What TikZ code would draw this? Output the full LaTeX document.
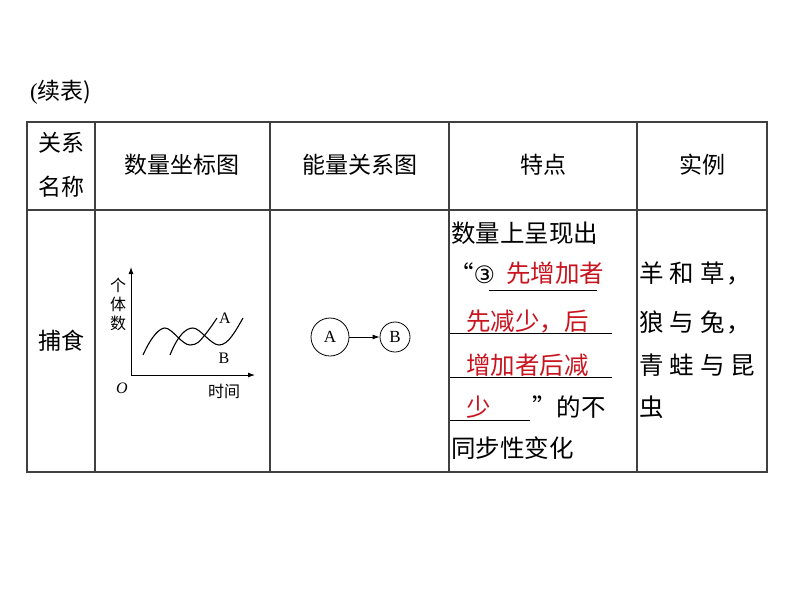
\documentclass[tikz,border=0pt]{standalone}
\usepackage{fontspec}
\setmainfont{Liberation Serif}
\newfontfamily\cjk{Noto Sans CJK SC}
\newfontfamily\djvfont{DejaVu Sans}
\usetikzlibrary{arrows.meta}
\definecolor{ansred}{RGB}{200,20,30}
\tikzset{
  txt/.style={font=\cjk\fontsize{24.5}{28}\selectfont, inner sep=0pt, anchor=west},
  ctxt/.style={font=\cjk\fontsize{23}{27}\selectfont, inner sep=0pt},
  red/.style={text=ansred},
  grid/.style={line width=1.2pt, draw=black!75},
  small/.style={font=\cjk\fontsize{16}{18}\selectfont, inner sep=0pt},
  circ/.style={circle, draw, line width=0.8pt, font=\fontsize{17}{19}\selectfont, inner sep=0pt},
  uline/.style={line width=0.8pt}
}
\begin{document}
\begin{tikzpicture}[x=1pt,y=-1pt]
\useasboundingbox (0,0) rectangle (794,603);
% table
\draw[grid] (27,122) rectangle (767,472);
\draw[grid] (27,210) -- (767,210);
\foreach \x in {95,270,449,637} \draw[grid] (\x,122) -- (\x,472);
\node[font=\fontsize{23}{27}\selectfont, inner sep=0pt, anchor=west] (xb) at (30,92) {(\cjk 续表)};
% header
\node[ctxt] (h1a) at (61,143) {关系};
\node[ctxt] (h1b) at (61,187) {名称};
\node[ctxt] (h2) at (182,165) {数量坐标图};
\node[ctxt] (h3) at (360,165) {能量关系图};
\node[ctxt] (h4) at (543,165) {特点};
\node[ctxt] (h5) at (702,165) {实例};
% row
\node[ctxt] (r1) at (61,341) {捕食};
% graph
\coordinate (o) at (131,375);
\coordinate (yt) at (131,267);
\coordinate (xr) at (255,375);
\draw[line width=0.9pt,-{Latex[length=7pt,width=5pt]}] (o) -- (yt);
\draw[line width=0.9pt,-{Latex[length=7pt,width=5pt]}] (o) -- (xr);
\node[small] (g1) at (118,285) {个};
\node[small] (g2) at (118,304) {体};
\node[small] (g3) at (118,323) {数};
\node[font=\itshape\fontsize{16}{18}\selectfont, inner sep=0pt] (oo) at (122,388) {O};
\node[small] (tm) at (224,391) {时间};
\draw[line width=1.1pt] (143,355) .. controls (152,335) and (160,328) .. (165,328)
  .. controls (172,328) and (182,345) .. (190,345) .. controls (197,345) and (200,341) .. (204,336)
  .. controls (209,330) and (213,324) .. (217,318);
\draw[line width=1.1pt] (170,355) .. controls (178,335) and (186,328) .. (193,328)
  .. controls (200,328) and (211,345) .. (219,345) .. controls (228,345) and (235,332) .. (243,318);
\node[font=\fontsize{16}{18}\selectfont, inner sep=0pt] (la) at (225,318) {A};
\node[font=\fontsize{16}{18}\selectfont, inner sep=0pt] (lb) at (224,358) {B};
% energy
\node[circ, minimum size=38pt] (ca) at (330,337) {A};
\node[circ, minimum size=30pt] (cb) at (395,337) {B};
\draw[line width=0.8pt,-{Latex[length=7pt,width=5pt]}] (ca) -- (cb);
% features
\node[txt] (f1) at (451,233) {数量上呈现出};
\node[txt] (f2a) at (449,273) {“{\djvfont\fontsize{24}{28}\selectfont ③}};
\node[txt,red] (f2b) at (506,273) {先增加者};
\node[txt,red] (f3) at (466,322) {先减少，后};
\node[txt,red] (f4) at (466,365) {增加者后减};
\node[txt,red] (f5) at (466,407) {少};
\node[txt] (f5b) at (532,407) {”的不};
\node[txt] (f6) at (451,448) {同步性变化};
\draw[uline] (489,290) -- (597,290);
\draw[uline] (450,333) -- (612,333);
\draw[uline] (450,377) -- (612,377);
\draw[uline] (450,420) -- (530,420);
% examples
\node[txt] (e1) at (639,273) {羊\hspace{6pt}和\hspace{6pt}草\hspace{2pt}，};
\node[txt] (e2) at (639,322) {狼\hspace{6pt}与\hspace{6pt}兔\hspace{2pt}，};
\node[txt] (e3) at (639,365) {青\hspace{6pt}蛙\hspace{6pt}与\hspace{6pt}昆};
\node[txt] (e4) at (639,407) {虫};
\end{tikzpicture}
\end{document}
